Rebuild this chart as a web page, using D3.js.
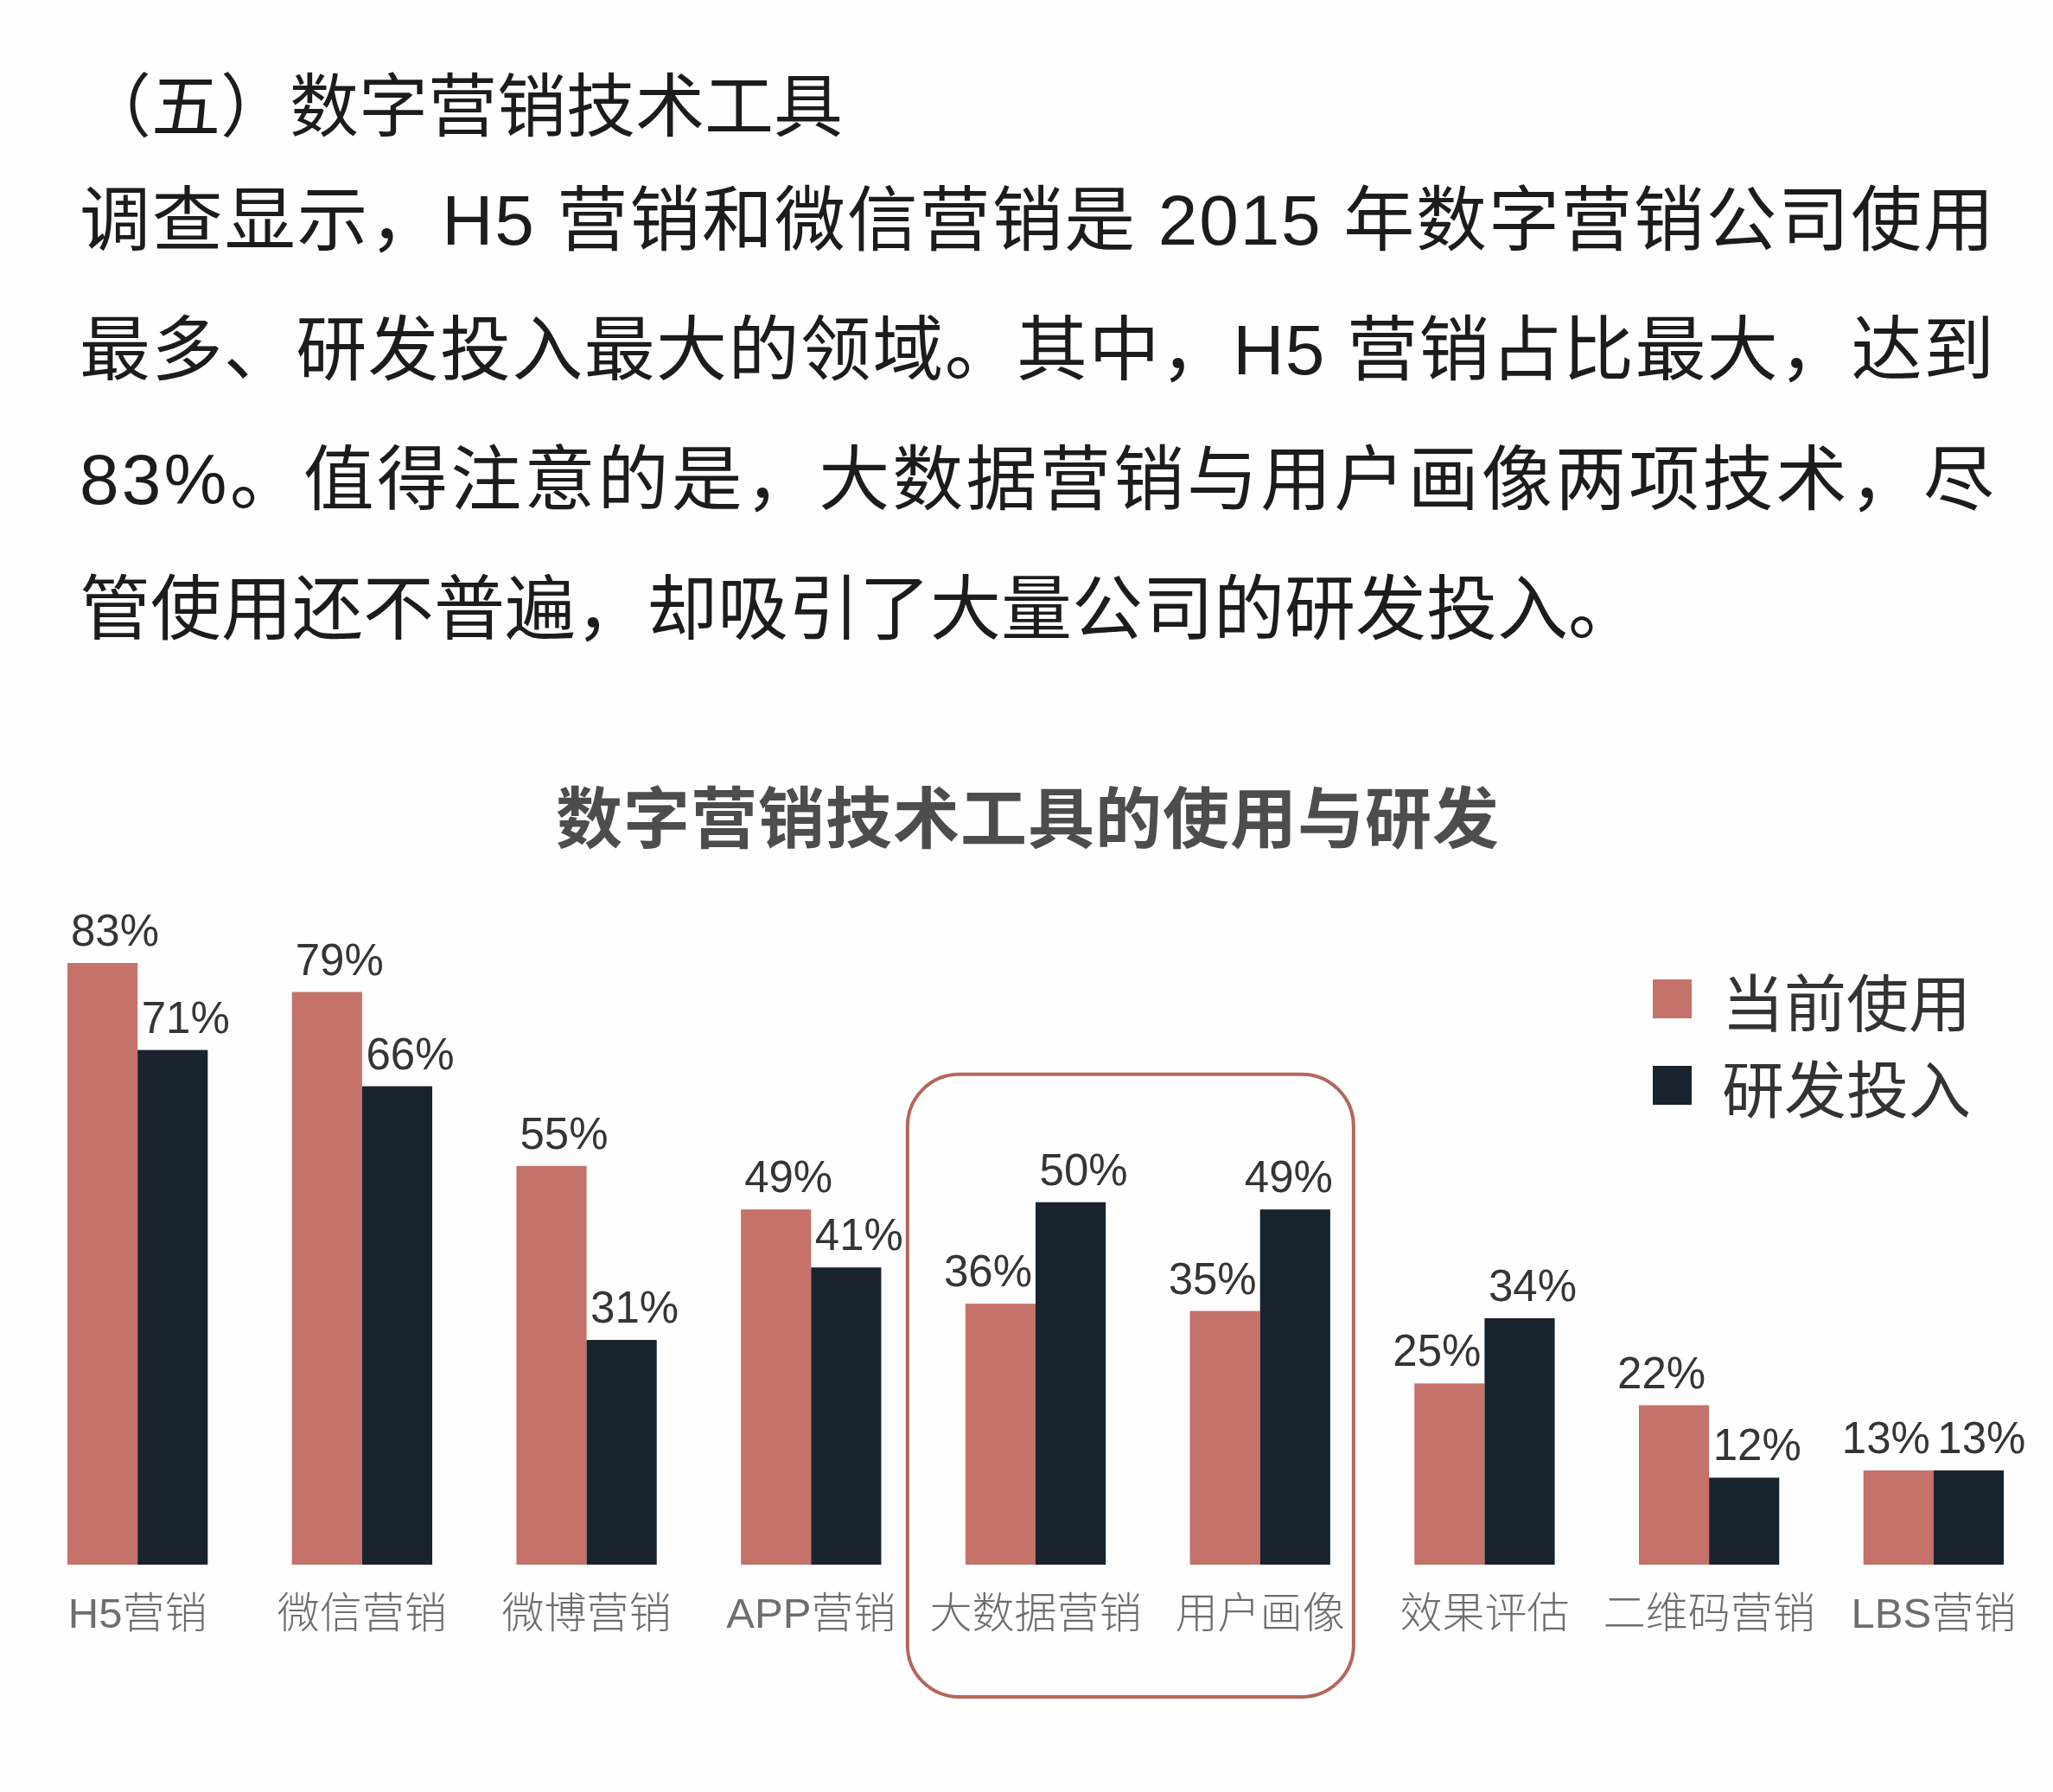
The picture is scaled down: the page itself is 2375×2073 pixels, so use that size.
<!DOCTYPE html>
<html>
<head>
<meta charset="utf-8">
<script src="https://cdn.jsdelivr.net/npm/d3@7"></script>
<style>
  body { margin: 0; background: #fff; }
  svg { display: block; }
</style>
</head>
<body>
<div id="chart"></div>
<script>
// data
var heading = "（五）数字营销技术工具";
var paragraph = [
  "调查显示，H5 营销和微信营销是 2015 年数字营销公司使用",
  "最多、研发投入最大的领域。其中，H5 营销占比最大，达到",
  "83%。值得注意的是，大数据营销与用户画像两项技术，尽",
  "管使用还不普遍，却吸引了大量公司的研发投入。"
];
var title = "数字营销技术工具的使用与研发";
var categories = ["H5营销", "微信营销", "微博营销", "APP营销", "大数据营销", "用户画像", "效果评估", "二维码营销", "LBS营销"];
var seriesNames = ["当前使用", "研发投入"];
var usage = [83, 79, 55, 49, 36, 35, 25, 22, 13];
var rnd = [71, 66, 31, 41, 50, 49, 34, 12, 13];
var highlighted = ["大数据营销", "用户画像"];

var width = 2375;
var height = 2073;
var colors = ["#c4726a", "#18232d"];
var base = 1810;

var svg = d3.select('#chart').append('svg')
    .attr('width', width)
    .attr('height', height);

svg.append('rect').attr('width', width).attr('height', height).attr('fill', '#fefefe');

// heading + text block
svg.append('text')
    .attr('x', 95).attr('y', 116)
    .attr('dominant-baseline', 'central')
    .style('font-family', '"Noto Sans CJK SC", sans-serif')
    .style('font-size', '80px')
    .style('fill', '#1c1c1c')
    .text(heading);

svg.selectAll('text.para').data(paragraph)
  .enter().append('text')
    .attr('class', 'para')
    .attr('x', 92)
    .attr('y', function (d, i) { return 254 + i * 150; })
    .attr('dominant-baseline', 'central')
    .attr('textLength', function (d, i) { return i < paragraph.length - 1 ? 2215 : null; })
    .attr('lengthAdjust', 'spacing')
    .style('font-family', '"Liberation Sans", "Noto Sans CJK SC", sans-serif')
    .style('font-size', '82px')
    .style('fill', '#1c1c1c')
    .text(function (d) { return d; });

// chart title
svg.append('text')
    .attr('x', 1189).attr('y', 941)
    .attr('text-anchor', 'middle')
    .attr('dominant-baseline', 'central')
    .style('font-family', '"Noto Sans CJK SC", sans-serif')
    .style('font-weight', 'bold')
    .style('font-size', '77px')
    .style('letter-spacing', '1px')
    .style('fill', '#4d4d4d')
    .text(title);

// scales
var x = d3.scaleBand()
    .domain(categories)
    .range([78, 2318])
    .paddingInner(0.375)
    .paddingOuter(0);

var xSub = d3.scaleBand()
    .domain(seriesNames)
    .range([0, x.bandwidth()]);

var y = d3.scaleLinear()
    .domain([0, 83])
    .range([base, 1114]);

// highlight box round 大数据营销 / 用户画像
var hx0 = x(highlighted[0]) - 67;
var hx1 = x(highlighted[highlighted.length - 1]) + x.bandwidth() + 27;
var hMax = d3.max(highlighted, function (c) {
  var i = categories.indexOf(c);
  return Math.max(usage[i], rnd[i]);
});
svg.append('rect')
    .attr('x', hx0)
    .attr('y', y(hMax) - 148)
    .attr('width', hx1 - hx0)
    .attr('height', base + 153 - (y(hMax) - 148))
    .attr('rx', 60).attr('ry', 60)
    .attr('fill', 'none')
    .attr('stroke', '#b5665c')
    .attr('stroke-width', 4);

var rows = categories.map(function (c, i) {
  return {cat: c, vals: [usage[i], rnd[i]]};
});

var groups = svg.selectAll('g.grp').data(rows)
  .enter().append('g')
    .attr('class', 'grp')
    .attr('transform', function (d) { return 'translate(' + x(d.cat) + ',0)'; });

groups.selectAll('rect').data(function (d) {
    return d.vals.map(function (v, j) { return {s: seriesNames[j], v: v, j: j}; });
  })
  .enter().append('rect')
    .attr('x', function (d) { return xSub(d.s); })
    .attr('y', function (d) { return y(d.v); })
    .attr('width', xSub.bandwidth())
    .attr('height', function (d) { return base - y(d.v); })
    .style('fill', function (d) { return colors[d.j]; });

// value labels: pink label sits left of the split when it would clash
function pinkLeft(d) { return d.j === 0 && (d.v <= d.other || d.v < 30); }

groups.selectAll('text.val').data(function (d) {
    return d.vals.map(function (v, j) {
      return {s: seriesNames[j], v: v, j: j, other: d.vals[1 - j], cat: d.cat};
    });
  })
  .enter().append('text')
    .attr('class', 'val')
    .attr('x', function (d) {
      if (d.j === 1) {
        var cx = xSub(d.s) + xSub.bandwidth() / 2 + 15;
        // keep the label inside the highlight box
        if (highlighted.indexOf(d.cat) >= 0) cx = Math.min(cx, hx1 - x(d.cat) - 75);
        return cx;
      }
      if (pinkLeft(d)) return xSub.bandwidth() - 4;
      return xSub(d.s) + 4;
    })
    .attr('y', function (d) { return y(d.v) - 20; })
    .attr('text-anchor', function (d) {
      if (d.j === 1) return 'middle';
      return pinkLeft(d) ? 'end' : 'start';
    })
    .style('font-family', '"Liberation Sans", Arial, sans-serif')
    .style('font-size', '51px')
    .style('fill', '#353535')
    .text(function (d) { return d.v + '%'; });

// category labels
groups.append('text')
    .attr('x', x.bandwidth() / 2)
    .attr('y', 1866)
    .attr('text-anchor', 'middle')
    .attr('dominant-baseline', 'central')
    .style('font-family', '"Liberation Sans", "Noto Sans CJK SC", sans-serif')
    .style('font-size', '49px')
    .style('font-weight', 300)
    .style('fill', '#6e6e6e')
    .text(function (d) { return d.cat; });

// legend
var legend = svg.selectAll('g.leg').data(seriesNames)
  .enter().append('g')
    .attr('class', 'leg')
    .attr('transform', function (d, i) { return 'translate(1912,' + (1133 + i * 100) + ')'; });

legend.append('rect')
    .attr('width', 45).attr('height', 45)
    .style('fill', function (d, i) { return colors[i]; });

legend.append('text')
    .attr('x', 80).attr('y', 22)
    .attr('dominant-baseline', 'central')
    .style('font-family', '"Noto Sans CJK SC", sans-serif')
    .style('font-size', '72px')
    .style('fill', '#333')
    .text(function (d) { return d; });
</script>
</body>
</html>
